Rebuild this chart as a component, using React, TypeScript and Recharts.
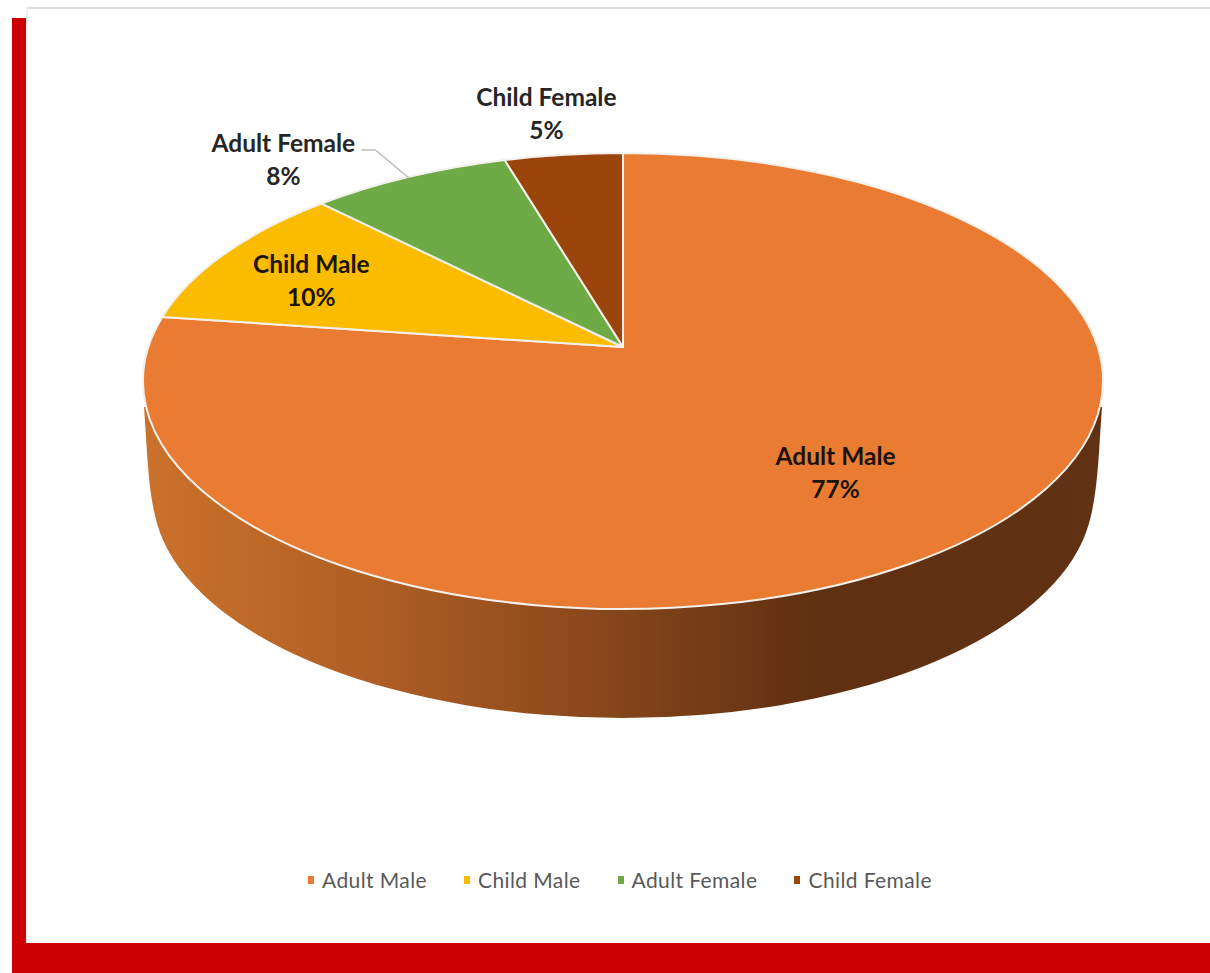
import { Legend, Pie, PieChart } from "recharts";

const categories = ["Adult Male", "Child Male", "Adult Female", "Child Female"];
const shares = [77.2, 10.4, 7.8, 4.6];
const colors = ["#ea7b33", "#fbbc00", "#6eab47", "#9b440c"];
const labelColors = ["#1c1208", "#1c1600", "#262626", "#262626"];

// where each label sits, relative to the middle of its slice's rim
const labelOffsets = [
  [-138.5, -64],
  [86, 27],
  [-125.5, -17.5],
  [-17, -42],
];

const data = categories.map((name, i) => ({ name, value: shares[i], fill: colors[i] }));

const FONT = "Lato, 'Open Sans', sans-serif";
const CX = 623;
const CY = 381;
const RX = 480;
const TILT = 0.475; // vertical squash of the top face
const APEX_LIFT = 0.149; // perspective moves the apex up from the ellipse centre
const K = Math.sqrt((1 - APEX_LIFT) / (1 + APEX_LIFT));
const RAD = Math.PI / 180;

// recharts angle (counter-clockwise from 3 o'clock) -> point on the tilted rim
function rimParam(angle: number) {
  const half = ((90 - angle) * RAD) / 2;
  return 2 * Math.atan2(K * Math.sin(half), Math.cos(half));
}
function rimPoint(angle: number, cx: number, cy: number, rx: number) {
  const t = rimParam(angle);
  return { x: cx + rx * Math.sin(t), y: cy - rx * TILT * Math.cos(t) };
}

function Wall({ cx, cy, rx }: { cx: number; cy: number; rx: number }) {
  // the straight top edge is hidden under the top face
  const d = [
    `M ${cx - rx + 1} ${cy + 26}`,
    `C ${cx - rx + 5} ${cy + 80} ${cx - 475} ${cy + 125} ${cx - 460} ${cy + 159}`,
    `A 470 224 0 0 0 ${cx + 460} ${cy + 159}`,
    `C ${cx + 475} ${cy + 125} ${cx + rx - 5} ${cy + 80} ${cx + rx - 1} ${cy + 26}`,
    "Z",
  ].join(" ");
  return (
    <>
      <defs>
        <linearGradient id="wallShade" gradientUnits="userSpaceOnUse" x1={cx - rx} x2={cx + rx} y1={0} y2={0}>
          <stop offset="0%" stopColor="#cb722b" />
          <stop offset="25%" stopColor="#ad5e24" />
          <stop offset="50%" stopColor="#84441a" />
          <stop offset="70%" stopColor="#5f3011" />
          <stop offset="100%" stopColor="#613114" />
        </linearGradient>
      </defs>
      <path d={d} fill="url(#wallShade)" />
    </>
  );
}

function renderSlice(props: any) {
  const { cx, cy, outerRadius, startAngle, endAngle, fill, index } = props;
  const a = rimPoint(startAngle, cx, cy, outerRadius);
  const b = rimPoint(endAngle, cx, cy, outerRadius);
  const large = rimParam(endAngle) - rimParam(startAngle) > Math.PI ? 1 : 0;
  const apexY = cy - outerRadius * TILT * APEX_LIFT;
  const d = `M ${cx} ${apexY} L ${a.x} ${a.y} A ${outerRadius} ${outerRadius * TILT} 0 ${large} 1 ${b.x} ${b.y} Z`;
  return (
    <g>
      {index === 0 && <Wall cx={cx} cy={cy} rx={outerRadius} />}
      <path d={d} fill={fill} stroke="#f4f1ec" strokeWidth={2} strokeLinejoin="round" />
    </g>
  );
}

function renderLabel(props: any) {
  const { cx, cy, outerRadius, midAngle, percent, name, index } = props;
  const rim = rimPoint(midAngle, cx, cy, outerRadius);
  const x = rim.x + labelOffsets[index][0];
  const y = rim.y + labelOffsets[index][1];
  const common = {
    x,
    textAnchor: "middle" as const,
    dominantBaseline: "central" as const,
    fontFamily: FONT,
    fontWeight: 700,
    fontSize: 24.5,
    fill: labelColors[index],
  };
  return (
    <g>
      {name === "Adult Female" && (
        <polyline
          points={`${x + 78} ${y - 9.5} ${x + 92} ${y - 9.5} ${rim.x} ${rim.y + 1}`}
          fill="none"
          stroke="#bfbfbf"
          strokeWidth={1.5}
        />
      )}
      <text {...common} y={y - 16.5}>
        {name}
      </text>
      <text {...common} y={y + 16.5}>
        {`${Math.round(percent * 100)}%`}
      </text>
    </g>
  );
}

function LegendRow({ payload }: any) {
  return (
    <div style={{ display: "flex", paddingLeft: 308, fontFamily: FONT, fontSize: 21, letterSpacing: 0.4, color: "#595959" }}>
      {(payload ?? []).map((item: any) => (
        <div key={item.value} style={{ display: "flex", alignItems: "center", marginRight: 37 }}>
          <span style={{ width: 6, height: 8, background: item.color, marginRight: 8 }} />
          {item.value}
        </div>
      ))}
    </div>
  );
}

export default function App() {
  return (
    <div style={{ position: "absolute", left: 0, top: 0, width: 1210, height: 973, overflow: "hidden", background: "#fff" }}>
      <div style={{ position: "absolute", left: 12, top: 18, width: 14, height: 955, background: "#cc0000" }} />
      <div style={{ position: "absolute", left: 12, top: 943, width: 1198, height: 30, background: "#cc0000" }} />
      <div style={{ position: "absolute", left: 26, top: 7, width: 1184, height: 2, background: "#dfdfdf" }} />
      <div style={{ position: "absolute", left: 26, top: 7, width: 2, height: 936, background: "#efefef" }} />
      <PieChart width={1210} height={973} margin={{ top: 0, right: 0, bottom: 0, left: 0 }}>
        <Pie
          data={data}
          dataKey="value"
          nameKey="name"
          cx={CX}
          cy={CY}
          outerRadius={RX}
          startAngle={90}
          endAngle={-270}
          stroke="none"
          shape={renderSlice}
          label={renderLabel}
          labelLine={false}
          isAnimationActive={false}
        />
        <Legend content={<LegendRow />} itemSorter={null} wrapperStyle={{ left: 0, top: 867, width: 1210 }} />
      </PieChart>
    </div>
  );
}
